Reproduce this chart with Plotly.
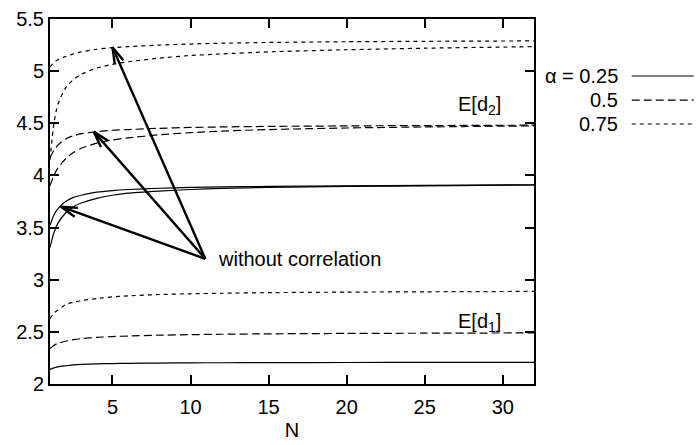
import math
import plotly.graph_objects as go

# ---------------- data ----------------
N = [1, 1.25, 1.5, 2, 2.5, 3, 4, 5, 6, 8, 10, 12, 15, 20, 25, 32]

# E[d1]
d1_a025 = [2.14, 2.155, 2.165, 2.175, 2.183, 2.188, 2.193, 2.196, 2.198, 2.201, 2.203, 2.204, 2.205, 2.206, 2.207, 2.207]
d1_a050 = [2.34, 2.37, 2.39, 2.41, 2.425, 2.435, 2.447, 2.455, 2.46, 2.468, 2.473, 2.477, 2.481, 2.485, 2.487, 2.49]
d1_a075 = [2.63, 2.68, 2.71, 2.76, 2.785, 2.80, 2.82, 2.835, 2.845, 2.858, 2.865, 2.87, 2.876, 2.881, 2.884, 2.888]

# E[d2] (two curves each: with / without correlation)
d2_a025_hi = [3.52, 3.62, 3.68, 3.75, 3.79, 3.81, 3.84, 3.855, 3.865, 3.877, 3.885, 3.89, 3.895, 3.90, 3.905, 3.91]
d2_a025_lo = [3.31, 3.45, 3.54, 3.64, 3.70, 3.735, 3.78, 3.81, 3.83, 3.85, 3.865, 3.875, 3.885, 3.895, 3.90, 3.908]
d2_a050_hi = [4.17, 4.24, 4.29, 4.35, 4.38, 4.40, 4.42, 4.433, 4.44, 4.452, 4.46, 4.465, 4.47, 4.475, 4.478, 4.482]
d2_a050_lo = [3.90, 4.00, 4.07, 4.16, 4.22, 4.26, 4.31, 4.34, 4.36, 4.39, 4.41, 4.425, 4.44, 4.455, 4.465, 4.475]
d2_a075_hi = [5.04, 5.08, 5.11, 5.14, 5.165, 5.185, 5.21, 5.225, 5.235, 5.25, 5.26, 5.268, 5.275, 5.282, 5.286, 5.29]
d2_a075_lo = [4.15, 4.50, 4.68, 4.84, 4.92, 4.97, 5.03, 5.065, 5.09, 5.125, 5.15, 5.165, 5.185, 5.205, 5.22, 5.235]

x_ticks = [5, 10, 15, 20, 25, 30]
y_ticks = [2, 2.5, 3, 3.5, 4, 4.5, 5, 5.5]
y_ticktext = ["2", "2.5", "3", "3.5", "4", "4.5", "5", "5.5"]

legend_labels = ["\u03b1 = 0.25", "0.5", "0.75"]

# arrows "without correlation": common tail, three tips
arrow_tail = (10.95, 3.20)
arrow_tips_x = [1.7, 3.8, 5.0]
arrow_tips_y = [3.70, 4.42, 5.23]

# ---------------- styling ----------------
FONT = "Liberation Sans, Arial, Helvetica, sans-serif"
FS = 20
dash_for = {"solid": "solid", "dash": "8px,4px", "dot": "4px,4px"}
LW = 1.2

X_RANGE = [1, 32]
Y_RANGE = [2, 5.5]
ML, MR, MT, MB = 50, 163, 19, 61
W, H = 697, 445
PW = W - ML - MR
PH = H - MT - MB

fig = go.Figure()

series = [
    (d1_a025, "solid"), (d1_a050, "dash"), (d1_a075, "dot"),
    (d2_a025_hi, "solid"), (d2_a025_lo, "solid"),
    (d2_a050_hi, "dash"), (d2_a050_lo, "dash"),
    (d2_a075_hi, "dot"), (d2_a075_lo, "dot"),
]
for ys, st in series:
    fig.add_trace(go.Scatter(
        x=N, y=ys, mode="lines",
        line=dict(color="black", width=LW, dash=dash_for[st], shape="spline", smoothing=0.6),
        showlegend=False, hoverinfo="skip"))

# arrows with open V heads
pxx = PW / (X_RANGE[1] - X_RANGE[0])
pxy = PH / (Y_RANGE[1] - Y_RANGE[0])
HEAD_L = 17
HEAD_ANG = math.radians(16)
for tx, ty in zip(arrow_tips_x, arrow_tips_y):
    dx = (arrow_tail[0] - tx) * pxx
    dy = (arrow_tail[1] - ty) * pxy
    a = math.atan2(dy, dx)
    b1 = (tx + HEAD_L * math.cos(a + HEAD_ANG) / pxx, ty + HEAD_L * math.sin(a + HEAD_ANG) / pxy)
    b2 = (tx + HEAD_L * math.cos(a - HEAD_ANG) / pxx, ty + HEAD_L * math.sin(a - HEAD_ANG) / pxy)
    fig.add_trace(go.Scatter(
        x=[b1[0], tx, b2[0], None, arrow_tail[0], tx],
        y=[b1[1], ty, b2[1], None, arrow_tail[1], ty],
        mode="lines", line=dict(color="black", width=2.4),
        showlegend=False, hoverinfo="skip", cliponaxis=False))

annos = [
    dict(x=arrow_tail[0] + 0.65, y=arrow_tail[1], text="without correlation",
         xanchor="left", yanchor="middle"),
    dict(x=28.5, y=4.675, text="E[d<sub>2</sub>]", xanchor="center", yanchor="middle"),
    dict(x=28.5, y=2.585, text="E[d<sub>1</sub>]", xanchor="center", yanchor="middle"),
]
for a in annos:
    fig.add_annotation(xref="x", yref="y", showarrow=False,
                       font=dict(family=FONT, size=FS, color="black"), **a)

# manual key (text left of the line sample)
key_y = [0.8438, 0.778, 0.7123]
for lab, st, yy in zip(legend_labels, ["solid", "dash", "dot"], key_y):
    fig.add_annotation(xref="paper", yref="paper", x=1.178, y=yy, text=lab,
                       showarrow=False, xanchor="right", yanchor="middle",
                       font=dict(family=FONT, size=FS, color="black"))
    fig.add_shape(type="line", xref="paper", yref="paper", x0=1.202, x1=1.33, y0=yy, y1=yy,
                  line=dict(color="black", width=LW, dash=dash_for[st]))

axis_common = dict(
    showline=True, linecolor="black", linewidth=2, mirror="ticks",
    ticks="inside", ticklen=9, tickwidth=2, tickcolor="black",
    showgrid=False, zeroline=False, automargin=False,
    tickfont=dict(family=FONT, size=FS, color="black"),
)
fig.update_xaxes(range=X_RANGE, tickvals=x_ticks, ticklabelstandoff=4, **axis_common,
                 title=dict(text="N", font=dict(family=FONT, size=FS, color="black"), standoff=6))
fig.update_yaxes(range=Y_RANGE, tickvals=y_ticks, ticktext=y_ticktext, ticklabelstandoff=0,
                 **axis_common)

fig.update_layout(
    width=W, height=H,
    margin=dict(l=ML, r=MR, t=MT, b=MB, pad=0),
    paper_bgcolor="white", plot_bgcolor="white",
    font=dict(family=FONT, size=FS, color="black"),
    showlegend=False,
)

fig.write_html("out.html")
